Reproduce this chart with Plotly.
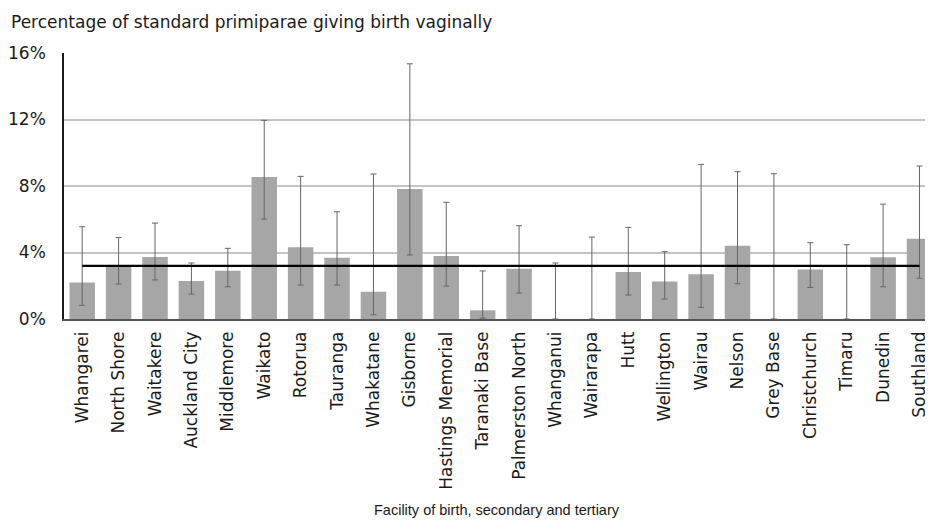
import plotly.graph_objects as go

# Facilities and rates (%)
facilities = ['Whangarei', 'North Shore', 'Waitakere', 'Auckland City', 'Middlemore',
              'Waikato', 'Rotorua', 'Tauranga', 'Whakatane', 'Gisborne',
              'Hastings Memorial', 'Taranaki Base', 'Palmerston North', 'Whanganui',
              'Wairarapa', 'Hutt', 'Wellington', 'Wairau', 'Nelson', 'Grey Base',
              'Christchurch', 'Timaru', 'Dunedin', 'Southland']
rate = [2.2, 3.2, 3.73, 2.29, 2.9, 8.54, 4.31, 3.69, 1.64, 7.82,
        3.79, 0.52, 3.03, 0.0, 0.0, 2.83, 2.25, 2.69, 4.41, 0.0,
        2.97, 0.0, 3.71, 4.83]
ci_upper = [5.55, 4.9, 5.77, 3.37, 4.25, 11.95, 8.58, 6.45, 8.72, 15.35,
            7.02, 2.89, 5.61, 3.37, 4.93, 5.51, 4.05, 9.3, 8.86, 8.74,
            4.59, 4.47, 6.91, 9.2]
ci_lower = [0.82, 2.1, 2.35, 1.5, 1.94, 6.01, 2.04, 2.04, 0.26, 3.85,
            1.98, 0.05, 1.56, 0.0, 0.0, 1.44, 1.2, 0.7, 2.12, 0.0,
            1.9, 0.0, 1.94, 2.45]
national_rate = 3.2
y_ticks = [0, 4, 8, 12, 16]
y_ticktext = ['0%', '4%', '8%', '12%', '16%']

err_plus = [u - r for u, r in zip(ci_upper, rate)]
err_minus = [r - l for r, l in zip(rate, ci_lower)]

fig = go.Figure()
fig.add_trace(go.Bar(
    x=facilities, y=rate,
    marker=dict(color='#a6a6a6', line=dict(width=0)),
    error_y=dict(type='data', symmetric=False, array=err_plus, arrayminus=err_minus,
                 color='#666666', thickness=1, width=3),
    hoverinfo='x+y',
))
# national average line across all facilities
fig.add_trace(go.Scatter(
    x=[facilities[0], facilities[-1]], y=[national_rate, national_rate],
    mode='lines', line=dict(color='black', width=2.2), hoverinfo='skip',
    cliponaxis=False,
))

# page body adds an 8px margin, so the figure is sized to fit inside the window
fig.update_layout(
    width=925, height=518,
    margin=dict(l=56, r=0, t=45, b=207),
    paper_bgcolor='white', plot_bgcolor='white',
    showlegend=False, bargap=0.3,
    font=dict(family='DejaVu Sans, Verdana, sans-serif', color='#1a1a1a'),
    annotations=[
        dict(text='Percentage of standard primiparae giving birth vaginally',
             xref='paper', yref='paper', x=0, y=1.0, xshift=-55, yshift=31,
             xanchor='left', yanchor='middle', showarrow=False,
             font=dict(size=17, color='#1a1a1a')),
        dict(text='Facility of birth, secondary and tertiary',
             xref='paper', yref='paper', x=0.498, y=0, yshift=-191,
             xanchor='center', yanchor='middle', showarrow=False,
             font=dict(family='Liberation Sans, Arial, sans-serif',
                       size=14.5, color='#1a1a1a')),
    ],
)
fig.update_yaxes(
    range=[0, 16], tickvals=y_ticks, ticktext=y_ticktext,
    showgrid=True, gridcolor='#c4c4c4', gridwidth=2,
    showline=True, linecolor='#1a1a1a', linewidth=1.5,
    zeroline=False, ticks='', tickfont=dict(size=17),
    automargin=False, ticklabelstandoff=13,
)
fig.update_xaxes(
    range=[-0.5, 23.37],
    tickangle=-90, tickfont=dict(size=17),
    showline=True, linecolor='#555555', linewidth=1.5, ticks='',
    automargin=False, ticklabelstandoff=4,
)

fig.write_html("out.html")
